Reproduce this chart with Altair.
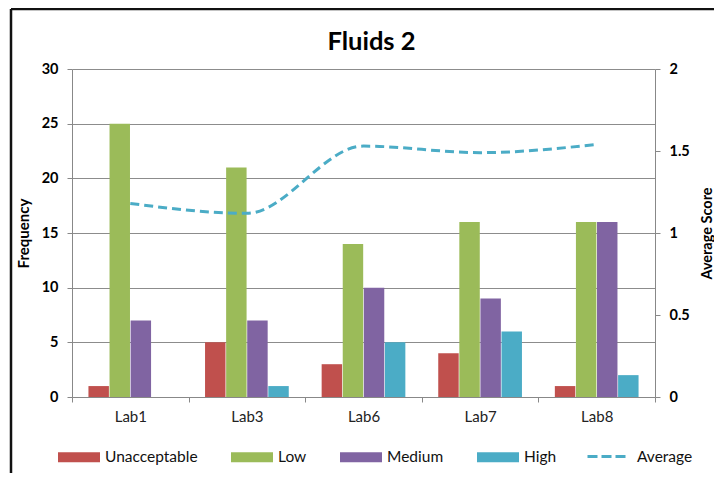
import altair as alt
import pandas as pd

labs = ["Lab1", "Lab3", "Lab6", "Lab7", "Lab8"]
levels = ["Unacceptable", "Low", "Medium", "High"]
unacceptable = [1, 5, 3, 4, 1]
low = [25, 21, 14, 16, 16]
medium = [7, 7, 10, 9, 16]
high = [0, 1, 5, 6, 2]
average = [1.18, 1.12, 1.53, 1.49, 1.54]
colors = ["#C0504D", "#9BBB59", "#8064A2", "#4BACC6"]
line_color = "#4BACC6"

rows = []
for i, lab in enumerate(labs):
    for lev, vals in zip(levels, [unacceptable, low, medium, high]):
        rows.append({"Lab": lab, "Level": lev, "Frequency": vals[i]})
bars_df = pd.DataFrame(rows)
avg_df = pd.DataFrame({"Lab": labs, "Average Score": average, "Series": ["Average"] * len(labs)})

FONT = "Lato"
AX = "#888888"

x_enc = alt.X("Lab:N", sort=labs, title=None,
              scale=alt.Scale(paddingInner=0, paddingOuter=0),
              axis=alt.Axis(tickBand="extent", labelAngle=0, labelFontSize=15,
                            labelColor="#222", labelFontWeight="normal",
                            domainColor=AX, tickColor=AX, tickSize=5,
                            labelPadding=7, grid=False))

bars = alt.Chart(bars_df).mark_bar().encode(
    x=x_enc,
    xOffset=alt.XOffset("Level:N", sort=levels,
                        scale=alt.Scale(paddingOuter=0.78, paddingInner=0.03)),
    y=alt.Y("Frequency:Q", scale=alt.Scale(domain=[0, 30]),
            axis=alt.Axis(values=[0, 5, 10, 15, 20, 25, 30], orient="left",
                          title="Frequency", titleFontSize=15, titleFontWeight="bold",
                          titleColor="#000", titlePadding=10,
                          labelFontSize=14.5, labelFontWeight="bold",
                          labelColor="#000", domainColor=AX, tickColor=AX,
                          tickSize=5, labelPadding=9, grid=True, gridColor="#8c8c8c",
                          gridWidth=1)),
    color=alt.Color("Level:N", sort=levels,
                    scale=alt.Scale(domain=levels, range=colors),
                    legend=alt.Legend(title=None, orient="none", legendX=-14, legendY=367,
                                      direction="horizontal",
                                      symbolType="M-1,-0.238H1V0.238H-1Z", symbolSize=1764,
                                      symbolStrokeWidth=0, labelFontSize=15.5,
                                      labelFont=FONT, labelColor="#111",
                                      columnPadding=33, labelOffset=5)),
)

line = alt.Chart(avg_df).mark_line(strokeWidth=3, strokeDash=[9, 5],
                                   interpolate="monotone").encode(
    x=alt.X("Lab:N", sort=labs),
    y=alt.Y("Average Score:Q", scale=alt.Scale(domain=[0, 2]),
            axis=alt.Axis(values=[0, 0.5, 1, 1.5, 2], format="~g", orient="right",
                          title="Average Score", titleFontSize=14.5, titleFontWeight="bold",
                          titleColor="#000", titlePadding=25, titleAngle=270,
                          labelFontSize=14.5, labelFontWeight="bold",
                          labelColor="#000", domainColor=AX, tickColor=AX,
                          tickSize=5, labelPadding=9, grid=False)),
    stroke=alt.Stroke("Series:N", scale=alt.Scale(domain=["Average"], range=[line_color]),
                      legend=alt.Legend(title=None, orient="none", legendX=514, legendY=365,
                                        symbolType="M-1,0H1", symbolSize=1764,
                                        symbolStrokeWidth=3, symbolDash=[10, 4],
                                        labelFontSize=15.5,
                                        labelFont=FONT, labelColor="#111", labelOffset=6)),
)

frame_df = pd.DataFrame({"k": [0]})
frame_left = alt.Chart(frame_df).mark_rule(color="#111", strokeWidth=2.5).encode(
    x=alt.value(-61), y=alt.value(-60), y2=alt.value(420))
frame_top = alt.Chart(frame_df).mark_rule(color="#111", strokeWidth=2.5).encode(
    x=alt.value(-61), x2=alt.value(700), y=alt.value(-60))

chart = alt.layer(bars, line, frame_left, frame_top).resolve_scale(
    y="independent", color="independent", stroke="independent"
).properties(
    width=583, height=328,
    title=alt.TitleParams("Fluids 2", fontSize=25.5, fontWeight="bold", font=FONT,
                          color="#000", anchor="middle", offset=-48, dx=8),
    autosize=alt.AutoSizeParams(type="none"),
    padding={"left": 64, "top": 61, "right": 59, "bottom": 76},
).configure(font=FONT).configure_view(stroke=None).configure_axis(
    labelFont=FONT, titleFont=FONT
)

chart.save("out.html", embed_options={"renderer": "svg", "actions": False})
